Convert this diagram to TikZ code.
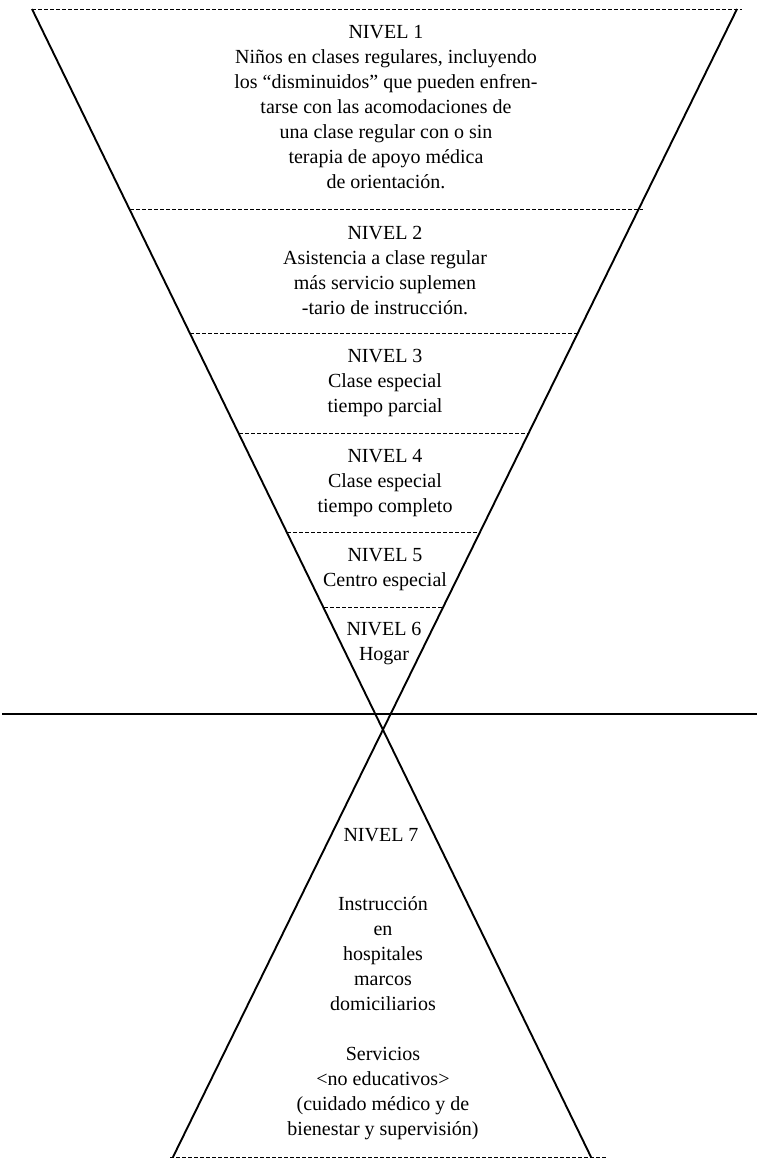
\documentclass[tikz,border=0pt]{standalone}
\usepackage{fontspec}
\setmainfont{Liberation Serif}
\begin{document}
\begin{tikzpicture}[x=1pt,y=-1pt,
  edge/.style={line width=1.9pt},
  divider/.style={line width=1pt, dash pattern=on 4pt off 2pt},
  axis/.style={line width=1.3pt},
  lvl/.style={align=center, font=\fontsize{20}{25}\selectfont, inner sep=0pt}]
\useasboundingbox (0,0) rectangle (757,1159);
% main V lines
\coordinate (TL) at (32,9);
\coordinate (TR) at (737,9);
\coordinate (C) at (383,730);
\coordinate (BL) at (173,1157);
\coordinate (BR) at (591,1157);
\draw[edge] (TL) -- (BR);
\draw[edge] (TR) -- (BL);
% top and bottom dashed lines
\coordinate (TRx) at (742,9);
\coordinate (BLx) at (170,1157);
\coordinate (BRx) at (606,1157);
\draw[divider] (TL) -- (TRx);
\draw[divider] (BLx) -- (BRx);
% level dividers
\coordinate (d1l) at (130,209); \coordinate (d1r) at (643,209);
\coordinate (d2l) at (190,333); \coordinate (d2r) at (579,333);
\coordinate (d3l) at (239,433); \coordinate (d3r) at (529,433);
\coordinate (d4l) at (287,532); \coordinate (d4r) at (480,532);
\coordinate (d5l) at (324,607); \coordinate (d5r) at (443,607);
\foreach \i in {1,...,5} {\draw[divider] (d\i l) -- (d\i r);}
% horizontal line
\coordinate (H1) at (2,714);
\coordinate (H2) at (757,714);
\draw[axis] (H1) -- (H2);
% texts
\node[lvl] (n1) at (386,107) {NIVEL 1\\Niños en clases regulares, incluyendo\\los “disminuidos” que pueden enfren-\\tarse con las acomodaciones de\\una clase regular con o sin\\terapia de apoyo médica\\de orientación.};
\node[lvl] (n2) at (385,271) {NIVEL 2\\Asistencia a clase regular\\más servicio suplemen\\-tario de instrucción.};
\node[lvl] (n3) at (385,383) {NIVEL 3\\Clase especial\\tiempo parcial};
\node[lvl] (n4) at (385,483) {NIVEL 4\\Clase especial\\tiempo completo};
\node[lvl] (n5) at (385,570) {NIVEL 5\\Centro especial};
\node[lvl] (n6) at (384,644) {NIVEL 6\\Hogar};
\node[lvl] (n7) at (381,835) {NIVEL 7};
\node[lvl] (n7b) at (383,1018) {Instrucción\\en\\hospitales\\marcos\\domiciliarios\\[25pt]Servicios\\<no educativos>\\(cuidado médico y de\\bienestar y supervisión)};
\end{tikzpicture}
\end{document}
